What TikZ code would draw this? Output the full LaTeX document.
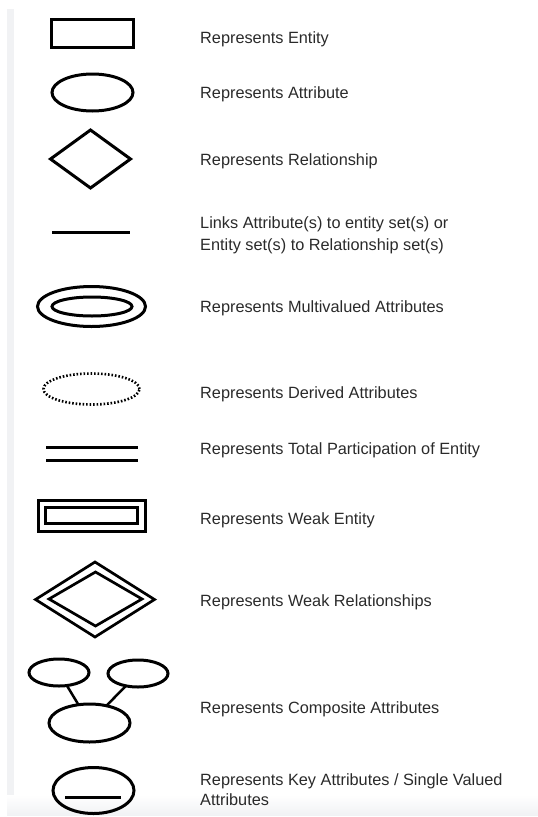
\documentclass[tikz,border=0pt]{standalone}
\usepackage{fontspec}
\setmainfont{Liberation Sans}
\usetikzlibrary{shapes.geometric}
\definecolor{txt}{HTML}{2A2A2A}
\definecolor{band}{HTML}{F1F2F4}
\tikzset{
  sym/.style={draw=black, line width=3pt, inner sep=0pt, outer sep=0pt},
  ell/.style={sym, ellipse},
  dia/.style={sym, diamond},
  lbl/.style={anchor=base west, inner sep=0pt, text=txt, font=\fontsize{16.3}{20}\selectfont},
  ln/.style={line width=3pt}
}
\begin{document}
\begin{tikzpicture}[x=1pt, y=-1pt]
\useasboundingbox (0,0) rectangle (538,817);
% background decorations
\fill[band] (7,9) rectangle (14,815);
\shade[top color=white, bottom color=band] (7,795) rectangle (538,815);

% 1 entity
\node[sym, rectangle, minimum width=82pt, minimum height=28pt] (ent) at (92,33) {};
\node[lbl] (tent) at (200,43.3) {Represents Entity};

% 2 attribute
\node[ell, minimum width=81pt, minimum height=37pt] (att) at (92.5,92.5) {};
\node[lbl] (tatt) at (200,98.7) {Represents Attribute};

% 3 relationship
\node[dia, minimum width=80pt, minimum height=58pt] (rel) at (90.5,159) {};
\node[lbl] (trel) at (200,165.7) {Represents Relationship};

% 4 link line
\coordinate (la) at (52,232.7);
\coordinate (lb) at (130,232.7);
\draw[ln] (la) -- (lb);
\node[lbl] (tlink1) at (200,228.3) {Links Attribute(s) to entity set(s) or};
\node[lbl] (tlink2) at (200,250) {Entity set(s) to Relationship set(s)};

% 5 multivalued
\node[ell, minimum width=108pt, minimum height=40pt] (mvo) at (91.5,306.5) {};
\node[ell, minimum width=80pt, minimum height=19pt] (mvi) at (92,306.5) {};
\node[lbl] (tmv) at (200,312.7) {Represents Multivalued Attributes};

% 6 derived
\node[ellipse, draw=black, line width=2.6pt, dash pattern=on 1.6pt off 1.9pt, inner sep=0pt, minimum width=96pt, minimum height=31pt] (der) at (91.5,389) {};
\node[lbl] (tder) at (200,398.3) {Represents Derived Attributes};

% 7 total participation
\coordinate (ta1) at (46,447.7);
\coordinate (tb1) at (138,447.7);
\coordinate (ta2) at (46,460.3);
\coordinate (tb2) at (138,460.3);
\draw[ln] (ta1) -- (tb1);
\draw[ln] (ta2) -- (tb2);
\node[lbl] (ttot) at (200,454) {Represents Total Participation of Entity};

% 8 weak entity
\node[sym, rectangle, minimum width=107pt, minimum height=31pt] (weo) at (92.2,515.5) {};
\node[sym, rectangle, minimum width=92pt, minimum height=16.5pt] (wei) at (91,515.5) {};
\node[lbl] (twe) at (200,524) {Represents Weak Entity};

% 9 weak relationship
\node[dia, line width=2.7pt, minimum width=119pt, minimum height=75pt] (wro) at (95,599.5) {};
\node[dia, line width=2.7pt, minimum width=93pt, minimum height=54pt] (wri) at (95.5,599) {};
\node[lbl] (twr) at (200,606.7) {Represents Weak Relationships};

% 10 composite
\node[ell, minimum width=60pt, minimum height=27pt] (ctl) at (59,672.5) {};
\node[ell, minimum width=60pt, minimum height=27pt] (ctr) at (138,673.5) {};
\node[ell, minimum width=81pt, minimum height=38pt] (cb) at (89.5,723) {};
\draw[line width=2.5pt] (ctl) -- (cb);
\draw[line width=2.5pt] (ctr) -- (cb);
\node[lbl] (tcomp) at (200,713.3) {Represents Composite Attributes};

% 11 key attribute
\node[ell, minimum width=81pt, minimum height=46pt] (key) at (93.5,790.5) {};
\coordinate (ka) at ([xshift=-28.5pt,yshift=-6.5pt]key.center);
\coordinate (kb) at ([xshift=27.5pt,yshift=-6.5pt]key.center);
\draw[ln] (ka) -- (kb);
\node[lbl] (tkey1) at (200,785.7) {Represents Key Attributes / Single Valued};
\node[lbl] (tkey2) at (200,805) {Attributes};
\end{tikzpicture}
\end{document}
